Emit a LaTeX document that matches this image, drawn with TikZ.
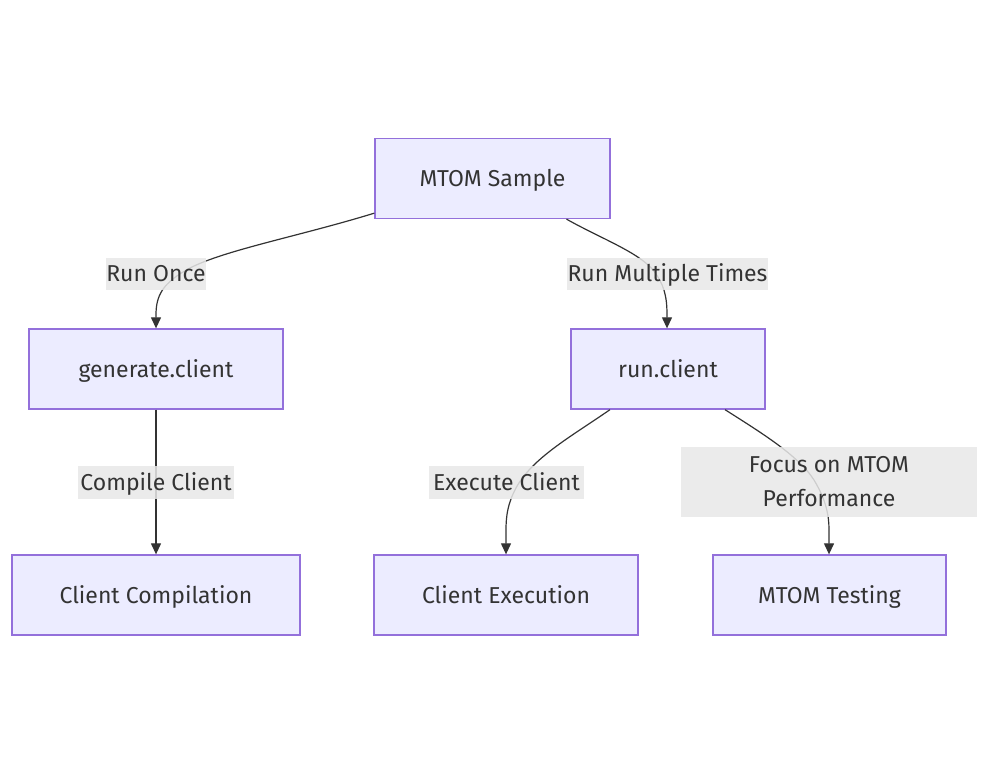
\documentclass[tikz,border=0pt]{standalone}
\usepackage{fontspec}
\setmainfont{Fira Sans}
\usetikzlibrary{arrows.meta,calc}
\definecolor{nodefill}{HTML}{ECECFF}
\definecolor{nodeline}{HTML}{9370DB}
\definecolor{ink}{HTML}{333333}
\definecolor{lblfill}{HTML}{E8E8E8}
\tikzset{
  box/.style={draw=nodeline, fill=nodefill, line width=1.3pt, text=ink, minimum height=80pt, font=\fontsize{23}{28}\selectfont, inner sep=0pt, text height=19pt, text depth=2pt},
  lbl/.style={fill=lblfill, fill opacity=0.85, text opacity=1, text=ink, font=\fontsize{23}{34}\selectfont, inner sep=0pt, align=center},
  onel/.style={lbl, text height=18.5pt, text depth=2.5pt},
  conn/.style={draw=ink, line width=1.2pt, -{Triangle[length=11pt,width=10pt]}}
}
\begin{document}
\begin{tikzpicture}[x=1pt,y=-1pt]
\useasboundingbox (0,0) rectangle (990,775);
\node[box, minimum width=235pt] (ms) at (492.5,178.5) {MTOM Sample};
\node[box, minimum width=254pt] (gc) at (156,369) {generate.client};
\node[box, minimum width=194pt] (rc) at (668,369) {run.client};
\node[box, minimum width=288pt] (cc) at (156,595) {Client Compilation};
\node[box, minimum width=264pt] (ce) at (506,595) {Client Execution};
\node[box, minimum width=233pt] (mt) at (829.5,595) {MTOM Testing};

\draw[conn] ($(ms.south west)+(0,-6)$) .. controls (300,236) and (225,250) .. (190,268) .. controls (162,283) and (156,296) .. (156,315) -- (gc.north);
\draw[conn] ($(ms.south)+(74,0)$) .. controls (600,238) and (638,252) .. (653,270) .. controls (664,284) and (667,296) .. (667,315) -- ($(rc.north)+(-1,0)$);
\draw[conn] (gc.south) -- (cc.north);
\draw[conn] ($(rc.south)+(-58,0)$) .. controls (572,436) and (532,458) .. (516,488) .. controls (508,503) and (506,515) .. (506,530) -- (ce.north);
\draw[conn] ($(rc.south)+(57,0)$) .. controls (760,432) and (798,455) .. (814,480) .. controls (826,500) and (829,515) .. (829,530) -- ($(mt.north)+(-0.5,0)$);

\node[onel, minimum width=98pt, minimum height=32pt] (l1) at (156,274) {Run Once};
\node[onel, minimum width=201pt, minimum height=32pt] (l2) at (667.5,274) {Run Multiple Times};
\node[onel, minimum width=156pt, minimum height=33pt] (l3) at (156,482.5) {Compile Client};
\node[onel, minimum width=155pt, minimum height=33pt] (l4) at (506.5,482.5) {Execute Client};
\node[lbl, minimum width=296pt, minimum height=70pt] (l5) at (829,482) {Focus on MTOM\\Performance};
\end{tikzpicture}
\end{document}
